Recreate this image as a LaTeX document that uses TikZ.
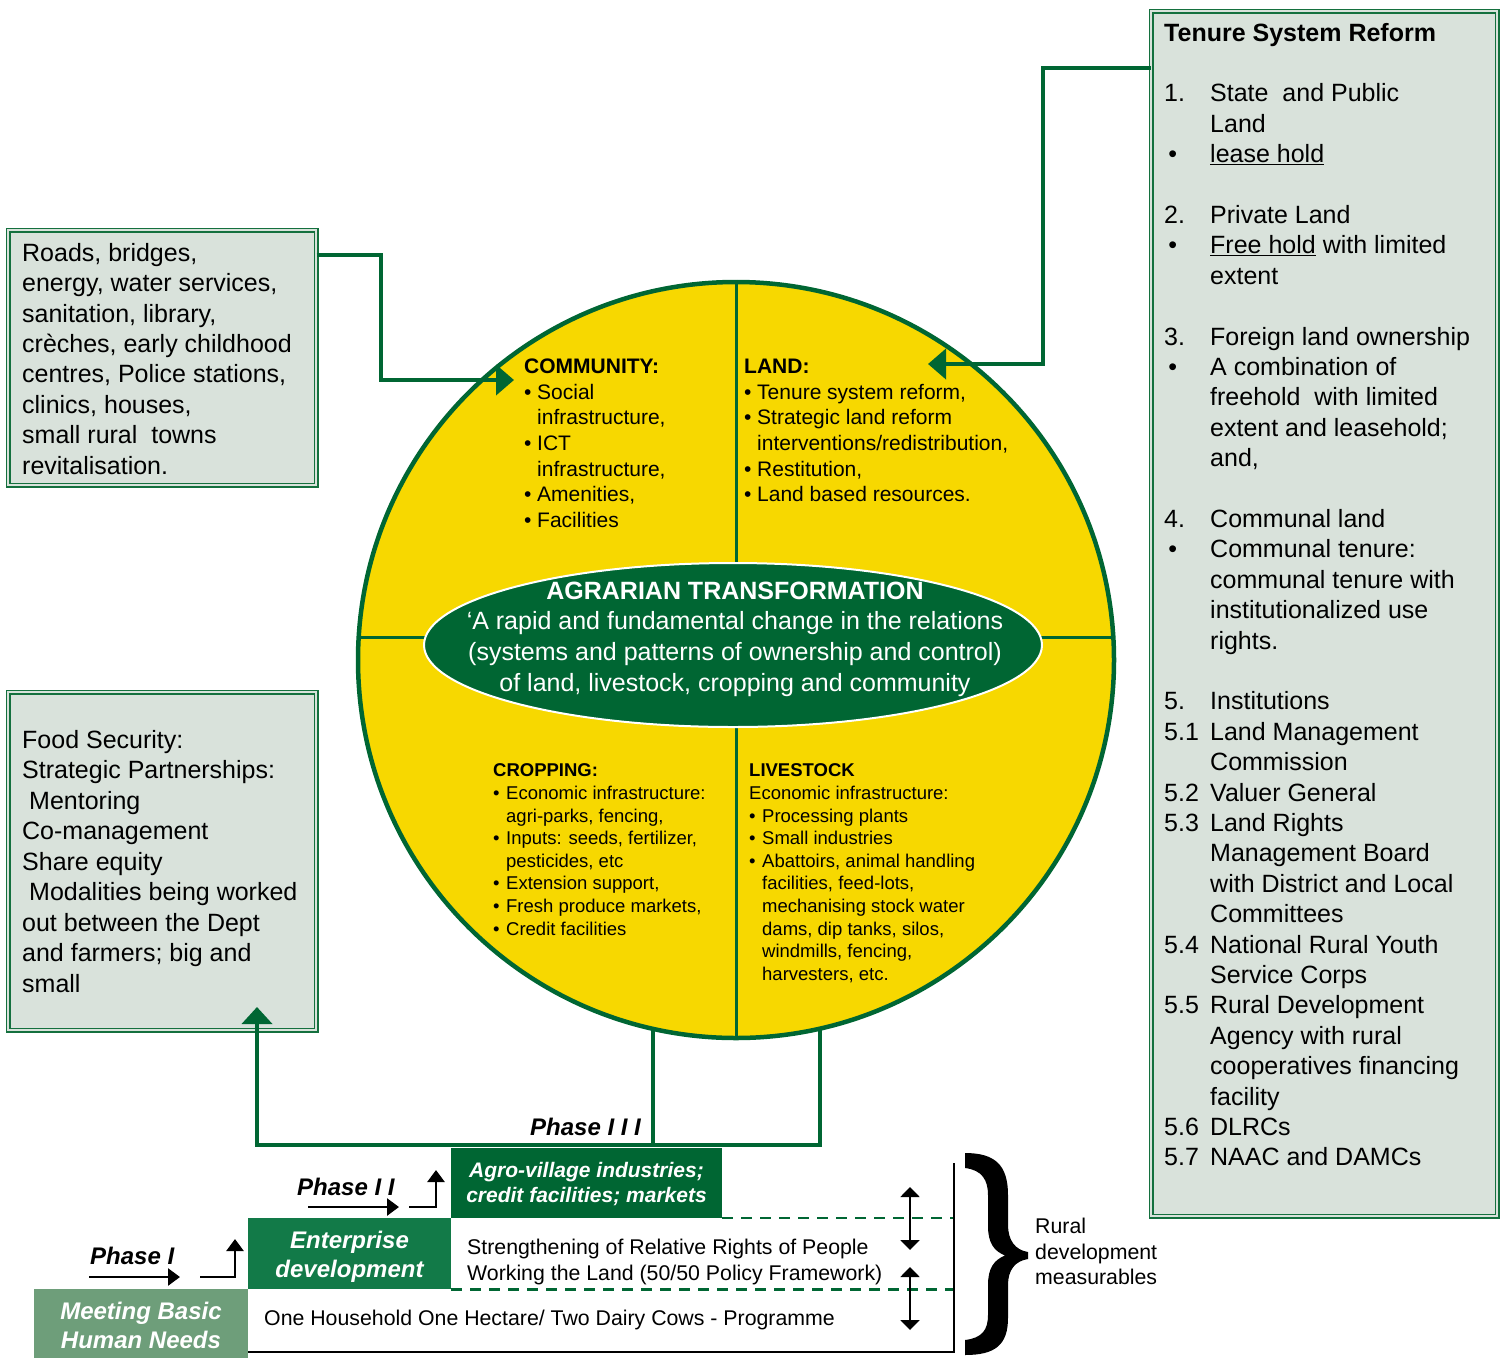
\documentclass[tikz,border=0pt]{standalone}
\usepackage{fontspec}
\setmainfont{Liberation Sans}
\usetikzlibrary{arrows.meta,shapes.geometric}
\definecolor{dgreen}{RGB}{0,102,51}
\definecolor{boxline}{RGB}{20,112,62}
\definecolor{boxfill}{RGB}{217,226,219}
\definecolor{yel}{RGB}{247,216,0}
\definecolor{midgreen}{RGB}{18,122,72}
\definecolor{greygreen}{RGB}{110,158,122}
\newcommand\fsz[2]{\fontsize{#1pt}{#2pt}\selectfont}
\newcommand\nm[1]{\makebox[46pt][l]{#1}}
\newcommand\bl{\makebox[13pt][l]{•}}
\newcommand\nb{\hspace*{13pt}}
\begin{document}
\begin{tikzpicture}[x=1pt,y=-1pt,
  infobox/.style={draw=boxline, double=boxfill, double distance=2.4pt, line width=1.2pt, fill=boxfill, inner sep=0pt, anchor=north west},
  conn/.style={draw=dgreen, line width=4pt},
  bigtip/.style={-{Triangle[length=18pt,width=30pt]}},
  blk/.style={draw=black, line width=2.6pt, -{Triangle[length=12pt,width=17pt]}},
  dbl/.style={draw=black, line width=2pt, {Triangle[length=10pt,width=19pt]}-{Triangle[length=10pt,width=19pt]}},
  txt/.style={inner sep=0pt, anchor=north west, text=black},
  band/.style={inner sep=0pt, anchor=north west},
  phase/.style={inner sep=0pt, anchor=base west, font=\fsz{24}{29}\bfseries\itshape},
]
\useasboundingbox (0,0) rectangle (1507,1358);

% side boxes
\node[infobox, minimum width=308pt, minimum height=255pt] (roads) at (7.5,229.5) {};
\node[infobox, minimum width=346pt, minimum height=1205pt] (tenure) at (1150.5,10.5) {};
\node[infobox, minimum width=308pt, minimum height=338pt] (food) at (7.5,691.5) {};

\node[txt, font=\fsz{25}{30.4}] (roadstext) at (22,239.8) {\begin{tabular}{@{}l@{}}
Roads, bridges,\\
energy, water services,\\
sanitation, library,\\
crèches, early childhood\\
centres, Police stations,\\
clinics, houses,\\
small rural\ \ towns\\
revitalisation.
\end{tabular}};

\node[txt, font=\fsz{25}{30.4}] (tenuretext) at (1164,19.7) {\begin{tabular}{@{}l@{}}
\textbf{Tenure System Reform}\\
\\
\nm{1.}State\ \ and Public\\
\nm{}Land\\
\nm{\,•}\underline{lease hold}\\
\\
\nm{2.}Private Land\\
\nm{\,•}\underline{Free hold} with limited\\
\nm{}extent\\
\\
\nm{3.}Foreign land ownership\\
\nm{\,•}A combination of\\
\nm{}freehold\ \ with limited\\
\nm{}extent and leasehold;\\
\nm{}and,\\
\\
\nm{4.}Communal land\\
\nm{\,•}Communal tenure:\\
\nm{}communal tenure with\\
\nm{}institutionalized use\\
\nm{}rights.\\
\\
\nm{5.}Institutions\\
\nm{5.1}Land Management\\
\nm{}Commission\\
\nm{5.2}Valuer General\\
\nm{5.3}Land Rights\\
\nm{}Management Board\\
\nm{}with District and Local\\
\nm{}Committees\\
\nm{5.4}National Rural Youth\\
\nm{}Service Corps\\
\nm{5.5}Rural Development\\
\nm{}Agency with rural\\
\nm{}cooperatives financing\\
\nm{}facility\\
\nm{5.6}DLRCs\\
\nm{5.7}NAAC and DAMCs
\end{tabular}};

\node[txt, font=\fsz{25}{30.5}] (foodtext) at (22,726.6) {\begin{tabular}{@{}l@{}}
Food Security:\\
Strategic Partnerships:\\
\hspace*{7pt}Mentoring\\
Co-management\\
Share equity\\
\hspace*{7pt}Modalities being worked\\
out between the Dept\\
and farmers; big and\\
small
\end{tabular}};

% central wheel
\coordinate (hl) at (357,637);
\coordinate (hr) at (1115,637);
\coordinate (c1) at (653,1028);
\coordinate (c2) at (820,1028);
\node[circle, draw=dgreen, line width=4.5pt, fill=yel, minimum size=756pt, inner sep=0pt] (wheel) at (736,660) {};
\draw[dgreen, line width=3pt] (wheel.north) -- (wheel.south);
\draw[dgreen, line width=3pt] (hl) -- (hr);
\node[ellipse, draw=white, line width=2pt, fill=dgreen, minimum width=618pt, minimum height=164pt, inner sep=0pt] (core) at (733,645) {};
\node[inner sep=0pt, anchor=north, text=white, font=\fsz{25}{30.6}] (coretext) at (735,577.6) {\begin{tabular}{@{}c@{}}
\textbf{AGRARIAN TRANSFORMATION}\\
‘A rapid and fundamental change in the relations\\
(systems and patterns of ownership and control)\\
of land, livestock, cropping and community
\end{tabular}};

\node[txt, font=\fsz{21}{25.6}] (community) at (524,355.6) {\begin{tabular}{@{}l@{}}
\textbf{COMMUNITY:}\\
\bl Social\\
\nb infrastructure,\\
\bl ICT\\
\nb infrastructure,\\
\bl Amenities,\\
\bl Facilities
\end{tabular}};

\node[txt, font=\fsz{21}{25.6}] (land) at (744,355.6) {\begin{tabular}{@{}l@{}}
\textbf{LAND:}\\
\bl Tenure system reform,\\
\bl Strategic land reform\\
\nb interventions/redistribution,\\
\bl Restitution,\\
\bl Land based resources.
\end{tabular}};

\node[txt, font=\fsz{18.5}{22.6}] (cropping) at (493,760.8) {\begin{tabular}{@{}l@{}}
\textbf{CROPPING:}\\
\bl Economic infrastructure:\\
\nb agri-parks, fencing,\\
\bl Inputs: seeds, fertilizer,\\
\nb pesticides, etc\\
\bl Extension support,\\
\bl Fresh produce markets,\\
\bl Credit facilities
\end{tabular}};

\node[txt, font=\fsz{18.5}{22.6}] (livestock) at (749,760.8) {\begin{tabular}{@{}l@{}}
\textbf{LIVESTOCK}\\
Economic infrastructure:\\
\bl Processing plants\\
\bl Small industries\\
\bl Abattoirs, animal handling\\
\nb facilities, feed-lots,\\
\nb mechanising stock water\\
\nb dams, dip tanks, silos,\\
\nb windmills, fencing,\\
\nb harvesters, etc.
\end{tabular}};

% connectors
\coordinate (r1) at (381,255);
\coordinate (r2) at (381,380);
\coordinate (commtip) at (514,380);
\draw[conn, bigtip] (roads.east |- r1) -- (r1) -- (r2) -- (commtip);
\coordinate (t1) at (1043,68);
\coordinate (t2) at (1043,364);
\coordinate (landtip) at (928,364);
\draw[conn, bigtip] (tenure.west |- t1) -- (t1) -- (t2) -- (landtip);
\coordinate (b1) at (653,1145);
\coordinate (b2) at (820,1145);
\coordinate (b3) at (257,1145);
\coordinate (foodtip) at (257,1007);
\draw[conn] (c1) -- (b1);
\draw[conn, -{Triangle[length=17pt,width=30pt]}] (c2) -- (b2) -- (b3) -- (foodtip);

% bottom staircase
\node[band, fill=dgreen, minimum width=271pt, minimum height=70pt] (agro) at (451,1147.5) {};
\node[band, fill=midgreen, minimum width=203pt, minimum height=71.5pt] (enter) at (248,1217.5) {};
\node[band, fill=greygreen, minimum width=214pt, minimum height=69pt] (meet) at (34,1289) {};
\node[inner sep=0pt, text=white, font=\fsz{21}{25}\bfseries\itshape] (agrotext) at (586.5,1185) {\begin{tabular}{@{}c@{}}Agro-village industries;\\credit facilities; markets\end{tabular}};
\node[inner sep=0pt, text=white, font=\fsz{24}{29}\bfseries\itshape] (entertext) at (349.5,1257.3) {\begin{tabular}{@{}c@{}}Enterprise\\development\end{tabular}};
\node[inner sep=0pt, text=white, font=\fsz{24}{29}\bfseries\itshape] (meettext) at (141,1328.3) {\begin{tabular}{@{}c@{}}Meeting Basic\\Human Needs\end{tabular}};

\node[inner sep=0pt, anchor=west, font=\fsz{21.3}{26}] (strength) at (467,1262.5) {\begin{tabular}{@{}l@{}}Strengthening of Relative Rights of People\\Working the Land (50/50 Policy Framework)\end{tabular}};
\node[inner sep=0pt, anchor=base west, font=\fsz{21.3}{26}] (household) at (264,1325.7) {One Household One Hectare/ Two Dairy Cows - Programme};

\coordinate (frameTop) at (954,1163);
\coordinate (frameBot) at (954,1352);
\draw[dgreen, line width=2.5pt, dash pattern=on 11pt off 8pt] (agro.south east) -- (agro.south east -| frameTop);
\draw[dgreen, line width=2.5pt, dash pattern=on 11pt off 8pt] (enter.south east) -- (enter.south east -| frameTop);
\draw[black, line width=2.5pt] (frameTop) -- (frameBot) -- (meet.east |- frameBot);

\coordinate (da1) at (910,1187);
\coordinate (da2) at (910,1250);
\coordinate (da3) at (910,1267);
\coordinate (da4) at (910,1330);
\draw[dbl] (da1) -- (da2);
\draw[dbl] (da3) -- (da4);

% phase labels and arrows
\node[phase] (p1) at (90,1264.6) {Phase I};
\node[phase] (p2) at (297,1195.6) {Phase I I};
\node[phase] (p3) at (530,1135.6) {Phase I I I};
\coordinate (a1s) at (89,1277);
\coordinate (a1e) at (180,1277);
\coordinate (s1a) at (200,1277);
\coordinate (s1b) at (235,1277);
\coordinate (s1c) at (235,1239);
\draw[blk] (a1s) -- (a1e);
\draw[blk] (s1a) -- (s1b) -- (s1c);
\coordinate (a2s) at (308,1207);
\coordinate (a2e) at (399,1207);
\coordinate (s2a) at (409,1207);
\coordinate (s2b) at (436,1207);
\coordinate (s2c) at (436,1170);
\draw[blk] (a2s) -- (a2e);
\draw[blk] (s2a) -- (s2b) -- (s2c);

% brace
\fill[black] (965,1153) .. controls (995,1153) and (1008,1165) .. (1008,1195)
  -- (1008,1225) .. controls (1008,1240) and (1015,1250) .. (1028,1252)
  -- (1028,1259) .. controls (1015,1261) and (1008,1270) .. (1008,1285)
  -- (1008,1318) .. controls (1008,1345) and (995,1355) .. (965,1355)
  -- (965,1340) .. controls (982,1338) and (988,1330) .. (988,1315)
  -- (988,1285) .. controls (988,1268) and (994,1260) .. (1005,1255.5)
  .. controls (994,1251) and (988,1243) .. (988,1226)
  -- (988,1195) .. controls (988,1180) and (982,1170) .. (965,1168) -- cycle;
\node[inner sep=0pt, anchor=west, font=\fsz{21.3}{25.5}] (rural) at (1035,1254) {\begin{tabular}{@{}l@{}}Rural\\development\\measurables\end{tabular}};
\end{tikzpicture}
\end{document}
